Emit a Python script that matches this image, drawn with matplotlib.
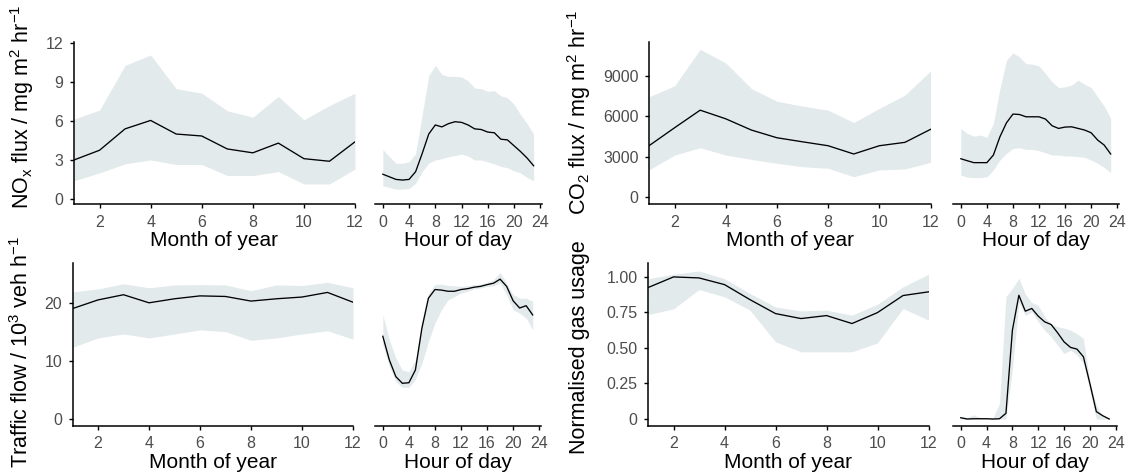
import matplotlib
matplotlib.use("Agg")
import matplotlib.pyplot as plt

plt.rcParams['font.family'] = ['Liberation Sans', 'DejaVu Sans']
plt.rcParams['mathtext.default'] = 'regular'

months = list(range(1, 13))
hours = list(range(0, 24))

# NOx flux (mg m-2 hr-1)
nox_m = [3.0, 3.75, 5.4, 6.05, 5.0, 4.85, 3.85, 3.55, 4.3, 3.1, 2.9, 4.4]
nox_m_hi = [6.15, 6.85, 10.3, 11.1, 8.5, 8.15, 6.8, 6.3, 7.9, 6.1, 7.2, 8.15]
nox_m_lo = [1.4, 2.0, 2.7, 3.0, 2.65, 2.65, 1.8, 1.8, 2.1, 1.15, 1.15, 2.3]
nox_h = [1.9, 1.7, 1.5, 1.45, 1.5, 2.1, 3.5, 5.0, 5.7, 5.55, 5.8, 5.95,
         5.9, 5.7, 5.4, 5.35, 5.15, 5.1, 4.6, 4.55, 4.1, 3.65, 3.15, 2.55]
nox_h_hi = [3.8, 3.25, 2.75, 2.75, 2.85, 3.5, 6.5, 9.5, 10.3, 9.6, 9.45, 9.45,
            9.4, 9.1, 8.55, 8.5, 8.3, 8.35, 7.95, 7.8, 7.3, 6.5, 5.8, 5.0]
nox_h_lo = [1.0, 0.88, 0.75, 0.75, 0.8, 1.2, 2.1, 2.75, 3.0, 3.1, 3.25, 3.35,
            3.45, 3.3, 3.0, 3.0, 2.85, 2.7, 2.5, 2.4, 2.15, 2.0, 1.65, 1.4]

# CO2 flux (mg m-2 hr-1)
co2_m = [3810, 5140, 6440, 5800, 4970, 4400, 4100, 3810, 3200, 3810, 4060, 5020]
co2_m_hi = [7430, 8240, 10940, 9930, 8040, 7100, 6740, 6440, 5530, 6570, 7550, 9340]
co2_m_lo = [2020, 3120, 3660, 3120, 2800, 2510, 2260, 2140, 1520, 2020, 2090, 2580]
co2_h = [2850, 2700, 2560, 2560, 2560, 3120, 4470, 5500, 6150, 6120, 5950, 5950,
         5950, 5780, 5290, 5090, 5190, 5210, 5090, 4970, 4770, 4230, 3860, 3200]
co2_h_hi = [5090, 4720, 4520, 4600, 4430, 5460, 8040, 10130, 10670, 10380, 9880, 9840,
            9710, 9150, 8530, 8110, 8160, 8290, 8660, 8360, 8110, 7430, 6740, 5830]
co2_h_lo = [1650, 1480, 1450, 1450, 1520, 2020, 2750, 3250, 3610, 3660, 3540, 3540,
            3440, 3290, 3120, 3120, 3050, 3050, 3000, 2950, 2750, 2510, 2210, 1820]

# Traffic flow (10^3 veh h-1)
tr_m = [19.1, 20.6, 21.5, 20.1, 20.8, 21.3, 21.2, 20.4, 20.8, 21.1, 21.9, 20.2]
tr_m_hi = [22.0, 22.5, 23.4, 22.7, 23.2, 23.25, 23.2, 22.2, 23.2, 23.1, 23.65, 22.7]
tr_m_lo = [12.4, 14.0, 14.7, 14.0, 14.7, 15.4, 15.1, 13.6, 14.0, 14.7, 15.25, 13.8]
tr_h = [14.3, 10.2, 7.3, 6.15, 6.25, 8.45, 15.7, 20.9, 22.4, 22.3, 22.1, 22.1,
        22.4, 22.55, 22.8, 22.95, 23.25, 23.5, 24.2, 22.95, 20.45, 19.2, 19.6, 18.0]
tr_h_hi = [18.0, 13.7, 10.5, 8.45, 8.15, 10.2, 17.15, 21.8, 23.25, 23.35, 23.1, 23.05,
           22.95, 23.05, 23.25, 23.35, 23.65, 24.1, 25.4, 23.5, 21.5, 20.9, 20.9, 20.35]
tr_h_lo = [12.8, 9.05, 6.45, 5.45, 5.45, 6.85, 9.6, 13.4, 16.6, 18.9, 20.6, 21.2,
           21.8, 22.1, 22.5, 22.65, 22.95, 23.05, 23.5, 21.5, 18.9, 18.3, 17.45, 15.4]

# Normalised gas usage
gas_m = [0.925, 1.0, 0.993, 0.946, 0.84, 0.742, 0.707, 0.728, 0.672, 0.749, 0.869, 0.895]
gas_m_hi = [0.988, 1.019, 1.042, 0.988, 0.883, 0.789, 0.761, 0.766, 0.731, 0.808, 0.93, 1.019]
gas_m_lo = [0.735, 0.775, 0.911, 0.86, 0.766, 0.543, 0.473, 0.473, 0.473, 0.536, 0.778, 0.696]
gas_h = [0.009, 0.0, 0.002, 0.002, 0.002, 0.0, 0.002, 0.04, 0.625, 0.871, 0.759, 0.778,
         0.724, 0.684, 0.665, 0.607, 0.543, 0.504, 0.492, 0.438, 0.25, 0.052, 0.023, 0.0]
gas_h_hi = [0.016, 0.01, 0.03, 0.01, 0.005, 0.01, 0.11, 0.86, 0.92, 0.99, 0.88, 0.82,
            0.80, 0.72, 0.67, 0.65, 0.64, 0.625, 0.60, 0.567, 0.262, 0.098, 0.016, 0.0]
gas_h_lo = [0.0, 0.0, 0.0, 0.0, 0.0, 0.0, 0.0, 0.0, 0.35, 0.82, 0.73, 0.754,
            0.684, 0.625, 0.578, 0.52, 0.46, 0.485, 0.45, 0.39, 0.2, 0.0, 0.0, 0.0]

month_ticks = [2, 4, 6, 8, 10, 12]
hour_ticks = [0, 4, 8, 12, 16, 20, 24]

FILL = '#e3eaec'
TICKCOL = '#4d4d4d'
W, H = 1130, 472

fig = plt.figure(figsize=(W / 100, H / 100), dpi=100)


def box(x0, x1, ytop, ybot):
    # pixel box -> figure fraction
    return [x0 / W, 1 - ybot / H, (x1 - x0) / W, (ybot - ytop) / H]


def common(ax):
    ax.spines['top'].set_visible(False)
    ax.spines['right'].set_visible(False)
    for s in ('left', 'bottom'):
        ax.spines[s].set_linewidth(1.1)
    ax.tick_params(direction='out', length=3.0, width=1.0, color='black',
                   labelsize=11.5, labelcolor=TICKCOL, pad=4.5)


def month_panel(rect, y, lo, hi, ylim, yticks, yticklabels):
    ax = fig.add_axes(box(*rect))
    ax.fill_between(months, lo, hi, color=FILL, lw=0)
    ax.plot(months, y, color='black', lw=0.95)
    ax.set_xlim(1, 12)
    ax.set_ylim(*ylim)
    ax.set_xticks(month_ticks)
    ax.set_yticks(yticks)
    ax.set_yticklabels(yticklabels)
    common(ax)
    ax.set_xlabel('Month of year', fontsize=15, labelpad=1)
    return ax


def hour_panel(rect, y, lo, hi, ylim):
    ax = fig.add_axes(box(*rect))
    ax.fill_between(hours, lo, hi, color=FILL, lw=0)
    ax.plot(hours, y, color='black', lw=0.95)
    ax.set_xlim(-1.2, 24.2)
    ax.set_ylim(*ylim)
    ax.set_xticks(hour_ticks)
    common(ax)
    ax.spines['left'].set_visible(False)
    ax.set_yticks([])
    ax.set_xlabel('Hour of day', fontsize=15, labelpad=1)
    return ax


nox_lim = (-0.42, 12.1)
co2_lim = (-520, 11480)
tr_lim = (-1.2, 27.0)
gas_lim = (-0.047, 1.098)

month_panel((74, 355, 42, 204.3), nox_m, nox_m_lo, nox_m_hi, nox_lim,
            [0, 3, 6, 9, 12], ['0', '3', '6', '9', '12'])
hour_panel((375, 541.5, 42, 204.3), nox_h, nox_h_lo, nox_h_hi, nox_lim)
month_panel((649, 930.5, 42, 204.3), co2_m, co2_m_lo, co2_m_hi, co2_lim,
            [0, 3000, 6000, 9000], ['0', '3000', '6000', '9000'])
hour_panel((953, 1118.5, 42, 204.3), co2_h, co2_h_lo, co2_h_hi, co2_lim)

month_panel((72.5, 353, 263, 425.7), tr_m, tr_m_lo, tr_m_hi, tr_lim,
            [0, 10, 20], ['0', '10', '20'])
hour_panel((375, 540.5, 263, 425.7), tr_h, tr_h_lo, tr_h_hi, tr_lim)
month_panel((648, 928.5, 263, 425.7), gas_m, gas_m_lo, gas_m_hi, gas_lim,
            [0, 0.25, 0.5, 0.75, 1.0], ['0', '0.25', '0.50', '0.75', '1.00'])
hour_panel((953, 1117, 263, 425.7), gas_h, gas_h_lo, gas_h_hi, gas_lim)

ylab = dict(rotation=90, ha='center', va='center', fontsize=15.5)
fig.text(22 / W, 1 - 107 / H, r'NO$_x$ flux / mg m$^2$ hr$^{-1}$', **ylab)
fig.text(579 / W, 1 - 112 / H, r'CO$_2$ flux / mg m$^2$ hr$^{-1}$', **ylab)
fig.text(22 / W, 1 - 352 / H, r'Traffic flow / 10$^3$ veh h$^{-1}$', **ylab)
fig.text(579 / W, 1 - 347 / H, 'Normalised gas usage', **ylab)

fig.savefig('out.png', dpi=100, facecolor='white')
